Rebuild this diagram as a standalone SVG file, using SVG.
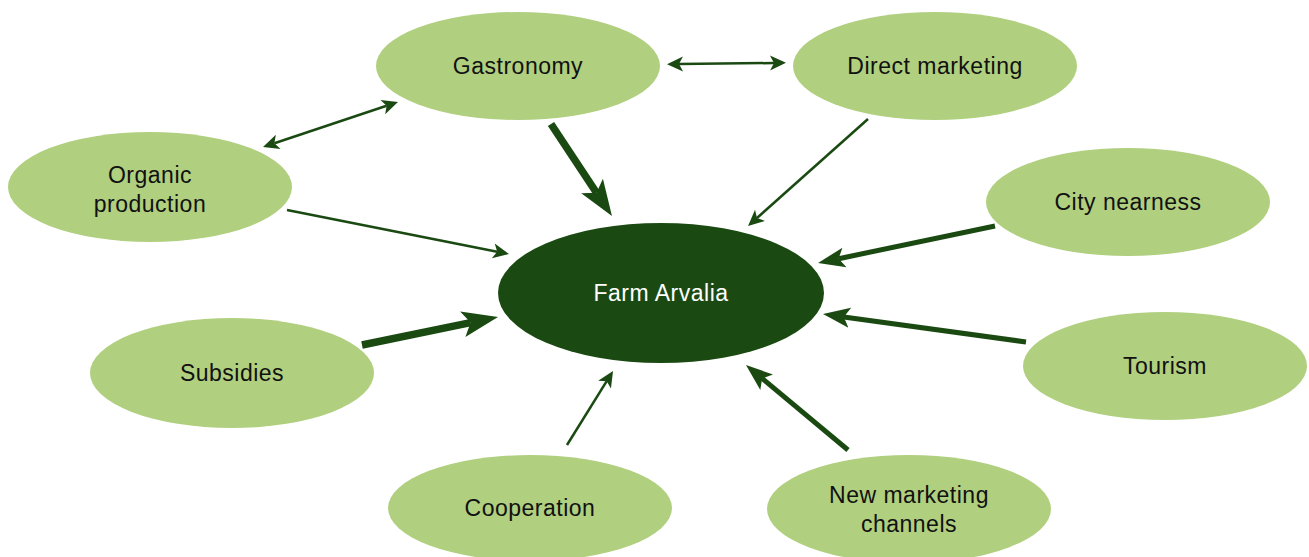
<svg xmlns="http://www.w3.org/2000/svg" width="1309" height="557" viewBox="0 0 1309 557">
<style>
.n{fill:#b0cf7f}
.c{fill:#1a4a12}
.t{font-family:"Liberation Sans",Arial,sans-serif;font-size:23px;letter-spacing:0.5px;fill:#111;text-anchor:middle}
.w{fill:#fff}
.a{stroke:#1a4a12;fill:none}
.s1{stroke-width:2.5}
.s2{stroke-width:5}
.s3{stroke-width:7.5}
</style>
<defs>
<marker id="h1" markerUnits="userSpaceOnUse" markerWidth="18" markerHeight="16" viewBox="0 -8 17 16" refX="4" refY="0" orient="auto-start-reverse"><path d="M0,-7.5L16,0L0,7.5L4,0Z" fill="#1a4a12"/></marker>
<marker id="h2" markerUnits="userSpaceOnUse" markerWidth="28" markerHeight="22" viewBox="0 -11 28 22" refX="6" refY="0" orient="auto-start-reverse"><path d="M0,-10L27,0L0,10L6,0Z" fill="#1a4a12"/></marker>
<marker id="h3" markerUnits="userSpaceOnUse" markerWidth="38" markerHeight="28" viewBox="0 -14 38 28" refX="8" refY="0" orient="auto-start-reverse"><path d="M0,-13L36,0L0,13L8,0Z" fill="#1a4a12"/></marker>
</defs>
<rect width="1309" height="557" fill="#fff"/>
<g id="nodes">
<g id="gastronomy"><ellipse class="n" cx="518" cy="66" rx="142" ry="54"/><text class="t" x="518" y="74">Gastronomy</text></g>
<g id="direct-marketing"><ellipse class="n" cx="935" cy="66" rx="142" ry="54"/><text class="t" x="935" y="74">Direct marketing</text></g>
<g id="organic-production"><ellipse class="n" cx="150" cy="187" rx="142" ry="55"/><text class="t" x="150" y="183">Organic</text><text class="t" x="150" y="212">production</text></g>
<g id="city-nearness"><ellipse class="n" cx="1128" cy="202" rx="142" ry="54"/><text class="t" x="1128" y="210">City nearness</text></g>
<g id="farm-arvalia"><ellipse class="c" cx="661" cy="293" rx="163" ry="70"/><text class="t w" x="661" y="301">Farm Arvalia</text></g>
<g id="subsidies"><ellipse class="n" cx="232" cy="373" rx="142" ry="55"/><text class="t" x="232" y="381">Subsidies</text></g>
<g id="tourism"><ellipse class="n" cx="1165" cy="366" rx="142" ry="54"/><text class="t" x="1165" y="374">Tourism</text></g>
<g id="cooperation"><ellipse class="n" cx="530" cy="508" rx="142" ry="53"/><text class="t" x="530" y="516">Cooperation</text></g>
<g id="new-marketing-channels"><ellipse class="n" cx="909" cy="509" rx="142" ry="54"/><text class="t" x="909" y="503">New marketing</text><text class="t" x="909" y="532">channels</text></g>
</g>
<g id="connectors">
<line class="a s3" x1="551" y1="124" x2="596.5" y2="192.7" marker-end="url(#h3)"/>
<line class="a s3" x1="362" y1="345" x2="470.6" y2="322.6" marker-end="url(#h3)"/>
<line class="a s2" x1="995" y1="226" x2="838.6" y2="258.7" marker-end="url(#h2)"/>
<line class="a s2" x1="1026" y1="342" x2="843.8" y2="316.9" marker-end="url(#h2)"/>
<line class="a s2" x1="848" y1="450" x2="762.1" y2="378.4" marker-end="url(#h2)"/>
<line class="a s1" x1="567" y1="445" x2="606.7" y2="381.2" marker-end="url(#h1)"/>
<line class="a s1" x1="868" y1="119" x2="757" y2="218" marker-end="url(#h1)"/>
<line class="a s1" x1="287" y1="210" x2="497.2" y2="251.7" marker-end="url(#h1)"/>
<line class="a s1" x1="679" y1="64" x2="774" y2="63" marker-start="url(#h1)" marker-end="url(#h1)"/>
<line class="a s1" x1="274.4" y1="143.2" x2="386.6" y2="105.8" marker-start="url(#h1)" marker-end="url(#h1)"/>
</g>
</svg>
